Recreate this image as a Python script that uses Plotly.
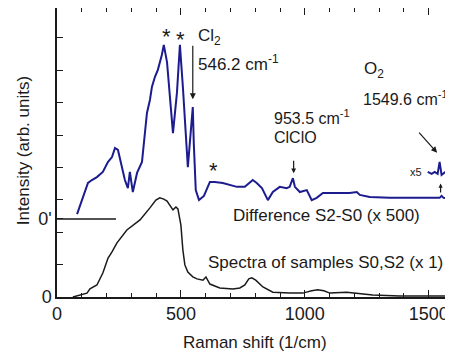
import plotly.graph_objects as go

# Difference S2-S0 (x 500), offset to 0'
diff_x = [81, 101, 125, 141, 161, 185, 206, 222, 234, 246, 262, 274, 286, 294, 306, 323, 343, 355, 363, 375,
          383, 395, 407, 423, 431, 444, 456, 468, 484, 496, 508, 520, 528, 536, 548, 552, 560, 573, 593, 617,
          637, 669, 726, 758, 790, 806, 827, 851, 871, 899, 927, 939, 952, 960, 980, 1008, 1028, 1048, 1073,
          1113, 1153, 1181, 1210, 1222, 1262, 1343, 1476, 1544, 1552, 1560, 1593]
diff_y = [2.56, 2.99, 3.52, 3.61, 3.70, 3.86, 4.17, 4.32, 4.60, 4.54, 4.01, 3.61, 3.36, 3.86, 3.24, 3.83,
          4.17, 5.06, 5.68, 6.08, 6.48, 6.79, 7.01, 7.47, 7.78, 7.25, 6.08, 5.06, 6.30, 7.78, 6.48, 4.75,
          4.01, 4.75, 5.86, 4.75, 3.30, 2.99, 3.12, 3.55, 3.55, 3.52, 3.40, 3.40, 3.61, 3.52, 3.36, 2.99,
          3.24, 3.40, 3.36, 3.40, 3.67, 3.40, 3.24, 3.30, 2.99, 3.06, 3.21, 3.21, 3.21, 3.21, 3.24, 3.15,
          3.09, 3.06, 3.06, 3.06, 3.12, 3.06, 3.02]

# O2 region magnified x5
inset_x = [1496, 1512, 1524, 1536, 1544, 1552, 1568, 1593]
inset_y = [3.86, 3.80, 3.86, 3.80, 4.17, 3.77, 3.86, 3.83]

# Spectra of samples S0,S2 (x 1)
spec_x = [64, 93, 121, 133, 161, 185, 206, 222, 242, 282, 335, 375, 399, 415, 431, 444, 456, 468, 480, 488,
          500, 508, 516, 528, 548, 565, 589, 601, 617, 657, 710, 738, 758, 774, 786, 802, 831, 871, 939, 992,
          1028, 1052, 1077, 1101, 1169, 1210, 1274, 1383, 1590]
spec_y = [0.0, 0.06, 0.12, 0.25, 0.37, 0.74, 1.20, 1.39, 1.67, 2.07, 2.38, 2.75, 2.99, 3.06, 3.02, 2.96,
          2.81, 2.69, 2.78, 2.72, 2.22, 1.45, 0.99, 0.77, 0.62, 0.56, 0.52, 0.62, 0.40, 0.28, 0.25, 0.28,
          0.37, 0.56, 0.59, 0.52, 0.31, 0.15, 0.12, 0.12, 0.19, 0.22, 0.19, 0.12, 0.15, 0.12, 0.06, 0.03, 0.03]

zero_prime = 2.41
y_tick_vals = [0, zero_prime]
y_tick_text = ["0", "0'"]
x_tick_vals = [0, 500, 1000, 1500]

FONT = "Arial, Liberation Sans, sans-serif"
BLUE = "#1c1c8f"

fig = go.Figure()
fig.add_trace(go.Scatter(x=diff_x, y=diff_y, mode="lines", line=dict(color=BLUE, width=2),
                         showlegend=False, hoverinfo="skip"))
fig.add_trace(go.Scatter(x=inset_x, y=inset_y, mode="lines", line=dict(color=BLUE, width=2),
                         showlegend=False, hoverinfo="skip"))
fig.add_trace(go.Scatter(x=spec_x, y=spec_y, mode="lines", line=dict(color="#1a1a1a", width=1.5),
                         showlegend=False, hoverinfo="skip"))

fig.add_shape(type="line", x0=0, x1=238, y0=zero_prime, y1=zero_prime,
              line=dict(color="#1a1a1a", width=1.5))

def txt(x, y, s, size=17, xanchor="left"):
    fig.add_annotation(x=x, y=y, text=s, showarrow=False, xanchor=xanchor, yanchor="middle",
                       font=dict(family=FONT, size=size, color="#1a1a1a"))

def arrow(x0, y0, x1, y1, size=1.0):
    fig.add_annotation(x=x1, y=y1, ax=x0, ay=y0, axref="x", ayref="y", xref="x", yref="y",
                       text="", showarrow=True, arrowhead=2, arrowsize=size, arrowwidth=1.2,
                       arrowcolor="#1a1a1a")

txt(560, 8.02, "Cl<sub>2</sub>")
txt(560, 7.22, "546.2 cm<sup>-1</sup>")
arrow(548, 7.80, 548, 6.10)
txt(441, 8.05, "*", size=22, xanchor="center")
txt(500, 7.95, "*", size=22, xanchor="center")
txt(632, 3.90, "*", size=22, xanchor="center")
txt(1232, 7.0, "O<sub>2</sub>")
txt(1226, 6.14, "1549.6 cm<sup>-1</sup>", size=16)
txt(868, 5.56, "953.5 cm<sup>-1</sup>", size=16)
txt(868, 4.91, "ClClO", size=16)
arrow(955, 4.25, 955, 3.82, size=0.8)
arrow(1456, 5.12, 1534, 4.45)
txt(1448, 3.86, "x5", size=11, xanchor="center")
arrow(1548, 3.18, 1548, 3.50, size=0.7)
txt(702, 2.53, "Difference S2-S0 (x 500)")
txt(602, 1.05, "Spectra of samples S0,S2 (x 1)")

# axis titles placed as paper annotations for exact positioning
fig.add_annotation(xref="paper", yref="paper", x=0.503, y=-0.159, text="Raman shift (1/cm)",
                   showarrow=False, xanchor="center", yanchor="middle",
                   font=dict(family=FONT, size=17, color="#1a1a1a"))
fig.add_annotation(xref="paper", yref="paper", x=-0.086, y=0.505, text="Intensity (arb. units)",
                   textangle=-90, showarrow=False, xanchor="center", yanchor="middle",
                   font=dict(family=FONT, size=17, color="#1a1a1a"))

# the page body has an 8px margin, so the figure is shifted by (8, 8)
fig.update_layout(
    width=445, height=348,
    margin=dict(l=49, r=2, t=0, b=59),
    paper_bgcolor="white", plot_bgcolor="white",
    font=dict(family=FONT, size=17, color="#1a1a1a"),
)
fig.update_xaxes(
    range=[0, 1590], showgrid=False, zeroline=False,
    showline=True, linecolor="#1a1a1a", linewidth=1.5, mirror="ticks",
    tickmode="array", tickvals=x_tick_vals, ticks="inside", ticklen=7, tickwidth=1.3,
    tickcolor="#1a1a1a", tickfont=dict(size=18),
    minor=dict(tickmode="linear", tick0=0, dtick=100, ticks="inside", ticklen=4, tickwidth=1.2,
               tickcolor="#1a1a1a", showgrid=False),
    automargin=False,
)
fig.update_yaxes(
    range=[0, 8.92], showgrid=False, zeroline=False,
    showline=True, linecolor="#1a1a1a", linewidth=1.5, mirror="ticks",
    tickmode="array", tickvals=y_tick_vals, ticktext=y_tick_text, ticks="inside", ticklen=6,
    tickwidth=1.3, tickcolor="#1a1a1a", tickfont=dict(size=18),
    minor=dict(tickmode="linear", tick0=0, dtick=1, ticks="inside", ticklen=6, tickwidth=1.2,
               tickcolor="#1a1a1a", showgrid=False),
    automargin=False,
)

fig.write_html("out.html")
